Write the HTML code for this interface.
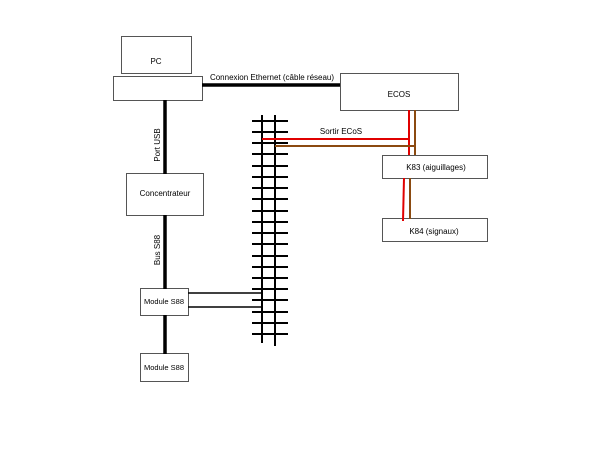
<!DOCTYPE html>
<html><head><meta charset="utf-8"><style>html,body{margin:0;background:#fff}svg{display:block}</style></head><body>
<svg width="600" height="450" viewBox="0 0 600 450" xmlns="http://www.w3.org/2000/svg" font-family="Liberation Sans, sans-serif" font-size="8">
<g fill="#fff" stroke="#555" stroke-width="1">
<rect x="121.5" y="36.5" width="70" height="37"/>
<rect x="113.5" y="76.5" width="89" height="24"/>
<rect x="340.5" y="73.5" width="118" height="37"/>
<rect x="126.5" y="173.5" width="77" height="42"/>
<rect x="140.5" y="288.5" width="48" height="27"/>
<rect x="140.5" y="353.5" width="48" height="28"/>
<rect x="382.5" y="155.5" width="105" height="23"/>
<rect x="382.5" y="218.5" width="105" height="23"/>
</g>
<g stroke="#000" stroke-width="3.5">
<line x1="202" y1="85" x2="340" y2="85"/>
<line x1="165" y1="100" x2="165" y2="174"/>
<line x1="165" y1="215" x2="165" y2="289"/>
<line x1="165" y1="315" x2="165" y2="354"/>
</g>
<g stroke="#000" stroke-width="2">
<line x1="262" y1="115" x2="262" y2="343"/>
<line x1="275" y1="115" x2="275" y2="346"/>
<g id="t">
<line x1="252" y1="121" x2="288" y2="121"/><line x1="252" y1="132" x2="288" y2="132"/><line x1="252" y1="143" x2="288" y2="143"/><line x1="252" y1="154" x2="288" y2="154"/><line x1="252" y1="166" x2="288" y2="166"/><line x1="252" y1="177" x2="288" y2="177"/><line x1="252" y1="188" x2="288" y2="188"/><line x1="252" y1="199" x2="288" y2="199"/><line x1="252" y1="211" x2="288" y2="211"/><line x1="252" y1="222" x2="288" y2="222"/><line x1="252" y1="233" x2="288" y2="233"/><line x1="252" y1="244" x2="288" y2="244"/><line x1="252" y1="256" x2="288" y2="256"/><line x1="252" y1="267" x2="288" y2="267"/><line x1="252" y1="278" x2="288" y2="278"/><line x1="252" y1="289" x2="288" y2="289"/><line x1="252" y1="300" x2="288" y2="300"/><line x1="252" y1="312" x2="288" y2="312"/><line x1="252" y1="323" x2="288" y2="323"/><line x1="252" y1="334" x2="288" y2="334"/>
</g>
</g>
<g stroke="#000" stroke-width="1.5">
<line x1="188" y1="293" x2="262" y2="293"/>
<line x1="188" y1="307" x2="262" y2="307"/>
</g>
<g stroke="#e00000" stroke-width="2" fill="none">
<polyline points="262,139 409,139"/>
<line x1="409" y1="110" x2="409" y2="155"/>
<line x1="404" y1="178" x2="403" y2="221"/>
</g>
<g stroke="#8b4a10" stroke-width="2" fill="none">
<polyline points="275,146 415,146"/>
<line x1="415" y1="110" x2="415" y2="155"/>
<line x1="410" y1="178" x2="410" y2="219"/>
</g>
<g fill="#000">
<text x="156" y="64" text-anchor="middle">PC</text>
<text x="272" y="80" text-anchor="middle">Connexion Ethernet (câble réseau)</text>
<text x="399" y="97" text-anchor="middle">ECOS</text>
<text x="165" y="196" text-anchor="middle">Concentrateur</text>
<text x="164" y="304" text-anchor="middle" font-size="7.5">Module S88</text>
<text x="164" y="370" text-anchor="middle" font-size="7.5">Module S88</text>
<text x="436" y="170" text-anchor="middle">K83 (aiguillages)</text>
<text x="434" y="234" text-anchor="middle">K84 (signaux)</text>
<text x="341" y="134" text-anchor="middle">Sortir ECoS</text>
<text transform="translate(160,145) rotate(-90)" text-anchor="middle">Port USB</text>
<text transform="translate(160,250) rotate(-90)" text-anchor="middle">Bus S88</text>
</g>
</svg>
</body></html>
